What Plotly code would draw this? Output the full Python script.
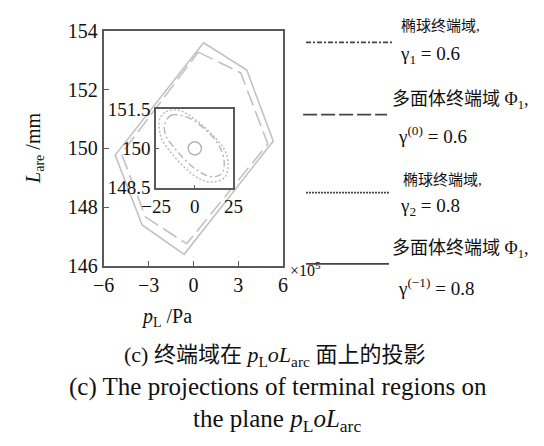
import plotly.graph_objects as go

# ---------------- data ----------------
# main plot: projections of polyhedral terminal regions (p_L in 1e5 Pa, L_arc in mm)
poly_solid_x = [0.68, 3.57, 5.34, -0.62, -3.43, -5.23, 0.68]
poly_solid_y = [153.6, 152.67, 150.25, 146.39, 147.39, 149.77, 153.6]
poly_dash_x = [0.33, 3.17, 4.98, -0.45, -3.21, -4.81, 0.33]
poly_dash_y = [153.28, 152.57, 150.15, 146.75, 147.66, 149.82, 153.28]

# inset: ellipsoidal terminal regions
ell_dot_x = [-22.7, -18.6, -10.4, 0.9, 11.2, 19.4, 21.5, 19.4, 11.2, 3.0, -6.3, -15.6, -21.7, -22.7]
ell_dot_y = [151.13, 151.39, 151.45, 151.07, 150.52, 149.92, 149.38, 148.90, 148.72, 148.84, 149.26, 149.86, 150.40, 151.13]
ell_dd_x = [-19.6, -15.6, -5.2, 7.1, 15.7, 19.0, 17.4, 11.2, 3.0, -6.3, -13.5, -18.6, -19.6]
ell_dd_y = [150.89, 151.25, 151.19, 150.70, 150.10, 149.50, 149.04, 148.92, 149.11, 149.56, 150.04, 150.46, 150.89]
circle_center = [0.0, 150.0]
circle_radius = [4.3, 0.25]

main_xticks = [-6, -3, 0, 3, 6]
main_yticks = [146, 148, 150, 152, 154]
inset_xticks = [-25, 0, 25]
inset_yticks = [148.5, 150, 151.5]
inset_yticktext = ["148.5", "150", "151.5"]

legend_names = ["椭球终端域,", "多面体终端域 Φ<sub>1</sub>,", "椭球终端域,", "多面体终端域 Φ<sub>1</sub>,"]
legend_gammas = ["γ<sub>1</sub> = 0.6", "γ<sup>(0)</sup> = 0.6", "γ<sub>2</sub> = 0.8", "γ<sup>(−1)</sup> = 0.8"]

# ---------------- figure ----------------
W, H = 544, 446
SERIF = "Liberation Serif, Noto Sans CJK SC"
LIGHT = "#c2c2c2"
AX = "#5a5a5a"
TXT = "#111111"


def px(x):
    return x / W


def py(y):
    return 1 - y / H


fig = go.Figure()

fig.add_trace(go.Scatter(x=poly_solid_x, y=poly_solid_y, mode="lines",
                         line=dict(color=LIGHT, width=1.6), xaxis="x", yaxis="y"))
fig.add_trace(go.Scatter(x=poly_dash_x, y=poly_dash_y, mode="lines",
                         line=dict(color=LIGHT, width=1.6, dash="16px,6px"), xaxis="x", yaxis="y"))
fig.add_trace(go.Scatter(x=ell_dot_x, y=ell_dot_y, mode="lines", line_shape="spline",
                         line=dict(color="#b8b8b8", width=1.4, dash="2px,2px"), xaxis="x2", yaxis="y2"))
fig.add_trace(go.Scatter(x=ell_dd_x, y=ell_dd_y, mode="lines", line_shape="spline",
                         line=dict(color="#b8b8b8", width=1.4, dash="7px,3px,2px,3px"), xaxis="x2", yaxis="y2"))

shapes = [dict(type="circle", xref="x2", yref="y2",
               x0=circle_center[0] - circle_radius[0], x1=circle_center[0] + circle_radius[0],
               y0=circle_center[1] - circle_radius[1], y1=circle_center[1] + circle_radius[1],
               line=dict(color="#b0b0b0", width=1.4))]

# legend sample lines (decoration)
leg_rows = [
    dict(y=33, x0=305, x1=397, dash="5px,2px,2px,2px"),
    dict(y=109, x0=302, x1=390, dash="14px,4px"),
    dict(y=191, x0=305, x1=393, dash="2px,1px"),
    dict(y=266, x0=305, x1=392, dash="solid"),
]
for r in leg_rows:
    shapes.append(dict(type="line", xref="paper", yref="paper",
                       x0=px(r["x0"]), x1=px(r["x1"]), y0=py(r["y"]), y1=py(r["y"]),
                       line=dict(color="#444444", width=1.6, dash=r["dash"])))

annotations = []
name_pos = [(403, 16, 15), (393, 94, 18), (405, 178, 15), (393, 251, 18)]
gam_pos = [(401, 46), (399, 130), (401, 206), (399, 290)]
for t, (x, y, s) in zip(legend_names, name_pos):
    annotations.append(dict(text=t, x=px(x), y=py(y), xref="paper", yref="paper",
                            xanchor="left", yanchor="middle", showarrow=False,
                            font=dict(family=SERIF, size=s, color=TXT)))
for t, (x, y) in zip(legend_gammas, gam_pos):
    annotations.append(dict(text=t, x=px(x), y=py(y), xref="paper", yref="paper",
                            xanchor="left", yanchor="middle", showarrow=False,
                            font=dict(family=SERIF, size=19, color=TXT)))

annotations.append(dict(text="×10<sup>5</sup>", x=px(286), y=py(271), xref="paper", yref="paper",
                        xanchor="left", yanchor="middle", showarrow=False,
                        font=dict(family=SERIF, size=16, color=TXT)))
annotations.append(dict(text="<i>L</i><sub>are</sub> /mm", x=px(21), y=py(145), xref="paper", yref="paper",
                        xanchor="center", yanchor="middle", showarrow=False, textangle=-90,
                        font=dict(family=SERIF, size=20, color=TXT)))
annotations.append(dict(text="<i>p</i><sub>L</sub> /Pa", x=px(159), y=py(322), xref="paper", yref="paper",
                        xanchor="center", yanchor="middle", showarrow=False,
                        font=dict(family=SERIF, size=20, color=TXT)))
annotations.append(dict(text="(c) 终端域在 <i>p</i><sub>L</sub><i>oL</i><sub>arc</sub> 面上的投影",
                        x=px(272), y=py(363), xref="paper", yref="paper",
                        xanchor="center", yanchor="middle", showarrow=False,
                        font=dict(family=SERIF, size=22, color=TXT)))
annotations.append(dict(text="(c) The projections of terminal regions on",
                        x=px(276), y=py(396), xref="paper", yref="paper",
                        xanchor="center", yanchor="middle", showarrow=False,
                        font=dict(family=SERIF, size=25, color=TXT)))
annotations.append(dict(text="the plane <i>p</i><sub>L</sub><i>oL</i><sub>arc</sub>",
                        x=px(275), y=py(431), xref="paper", yref="paper",
                        xanchor="center", yanchor="middle", showarrow=False,
                        font=dict(family=SERIF, size=25, color=TXT)))


def axis_style(size):
    return dict(showline=True, linecolor=AX, linewidth=1.8, mirror=True, showgrid=False,
                zeroline=False, ticks="inside", tickcolor=AX, tickwidth=1.2,
                tickfont=dict(family=SERIF, size=size, color=TXT))


fig.update_layout(
    width=W, height=H, margin=dict(l=0, r=0, t=0, b=0, pad=0),
    paper_bgcolor="white", plot_bgcolor="white", showlegend=False,
    xaxis=dict(domain=[px(93), px(281)], range=[-6, 6], tickvals=main_xticks, ticklen=5,
               anchor="y", **axis_style(20)),
    yaxis=dict(domain=[py(268), py(21)], range=[146, 154], tickvals=main_yticks, ticklen=5,
               anchor="x", **axis_style(20)),
    xaxis2=dict(domain=[px(148), px(229)], range=[-25, 25], tickvals=inset_xticks, ticklen=3,
                anchor="y2", **axis_style(19)),
    yaxis2=dict(domain=[py(186), py(103)], range=[148.5, 151.5], tickvals=inset_yticks,
                ticktext=inset_yticktext, ticklen=3, anchor="x2", **axis_style(19)),
    shapes=shapes, annotations=annotations,
)

page_fix = ("document.documentElement.style.margin='0';document.body.style.margin='0';"
            "document.body.style.padding='0';document.body.style.overflow='hidden';")
fig.write_html("out.html", post_script=page_fix, config={"displayModeBar": False})
